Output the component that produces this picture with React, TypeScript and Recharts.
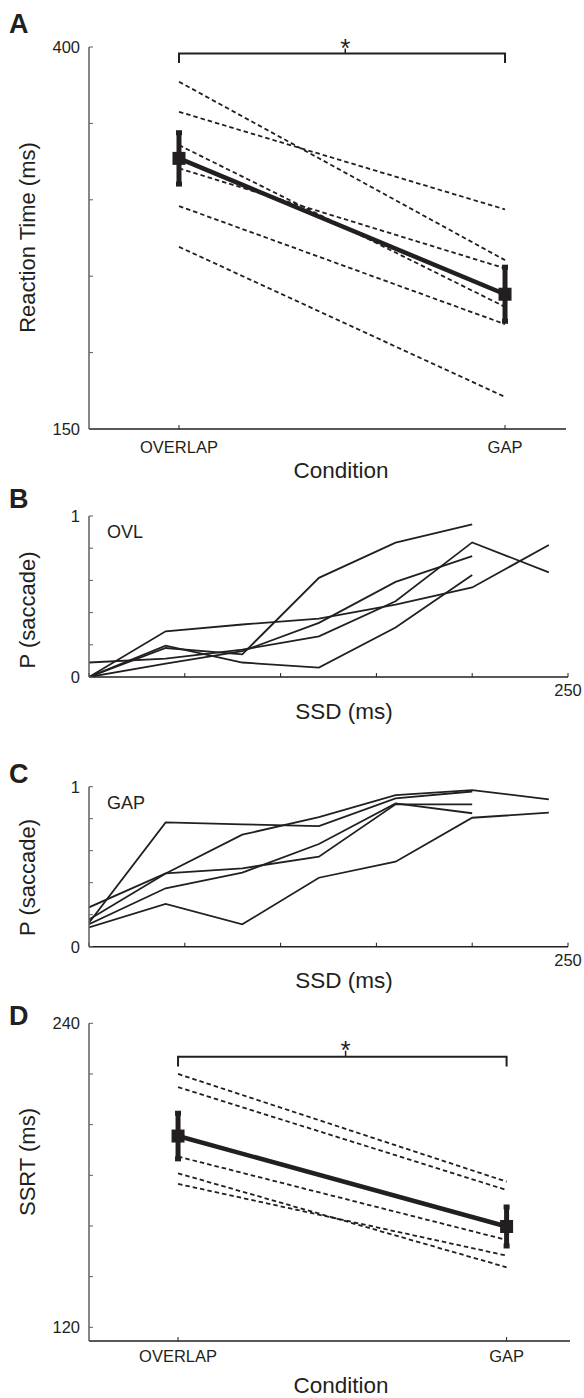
import React from 'react';
import { LineChart, Line, XAxis, YAxis, ErrorBar, ReferenceLine } from 'recharts';

const INK = '#231f20';
const GREY = '#5e5e5e';
const FONT = '"Liberation Sans", Arial, Helvetica, sans-serif';

// A: saccadic reaction time per subject (ms)
const conditions = ['OVERLAP', 'GAP'];
const rtOverlap = [377.3, 357.6, 335.8, 320.6, 295.9, 269.2];
const rtGap = [260.5, 293.7, 229.9, 255.1, 218.6, 171.0];
const rtMean = [327.1, 238.2];
const rtSem = [16.8, 17.7];
const rtTicks = [150, 200, 250, 300, 350, 400];

// B/C: inhibition functions, P(saccade) by SSD
const ssdValues = [0, 40, 80, 120, 160, 200, 240];
const ssdTicks = [0, 50, 100, 150, 200, 250];
const probTicks = [0, 0.2, 0.4, 0.6, 0.8, 1];
const ovlS1 = [0, 0.18, 0.141, 0.616, 0.834, 0.948];
const ovlS2 = [0, 0.284, 0.326, 0.363, 0.45, 0.556, 0.82];
const ovlS3 = [0, 0.083, 0.16, 0.336, 0.591, 0.751];
const ovlS4 = [0.09, 0.114, 0.17, 0.253, 0.47, 0.836, 0.65];
const ovlS5 = [0, 0.195, 0.09, 0.058, 0.307, 0.633];
const gapS1 = [0.15, 0.777, 0.765, 0.754, 0.927, 0.97];
const gapS2 = [0.17, 0.458, 0.7, 0.81, 0.948, 0.979, 0.921];
const gapS3 = [0.246, 0.458, 0.49, 0.5625, 0.89, 0.89];
const gapS4 = [0.14, 0.365, 0.463, 0.642, 0.896, 0.834];
const gapS5 = [0.12, 0.267, 0.14, 0.431, 0.531, 0.806, 0.8375];

// D: SSRT per subject (ms)
const ssrtOverlap = [220.0, 214.8, 187.4, 180.8, 176.6];
const ssrtGap = [177.5, 174.2, 154.5, 143.7, 148.3];
const ssrtMean = [195.5, 159.8];
const ssrtSem = [9.0, 7.7];
const ssrtTicks = [120, 140, 160, 180, 200, 220, 240];

const pairs = (a: number[], b: number[]) => a.map((v, i) => [{ x: 1, y: v }, { x: 2, y: b[i] }]);
const means = (m: number[], e: number[]) => m.map((v, i) => ({ x: i + 1, y: v, err: e[i] }));
const curve = (ps: number[]) => ps.map((p, i) => ({ x: ssdValues[i], y: p }));

const tickStyle = { fill: INK, fontSize: 16.5, fontFamily: FONT };

function Square(props: any) {
  const { cx, cy, index } = props;
  if (cx == null || cy == null) return <g key={`sq-${index}`} />;
  return <rect key={`sq-${index}`} x={cx - 6.5} y={cy - 6.5} width={13} height={13} fill={INK} />;
}

const yTitle = (text: string, yc: number) => () => (
  <text x={34.5} y={yc} transform={`rotate(-90 34.5 ${yc})`} textAnchor="middle"
    fontSize={22} fontFamily={FONT} fill={INK}>{text}</text>
);
const xTitle = (text: string, yb: number, xc = 341) => () => (
  <text x={xc} y={yb} textAnchor="middle" fontSize={22.5} fontFamily={FONT} fill={INK}>{text}</text>
);
const star = (props: any) => {
  const vb = props.viewBox || {};
  return (
    <text x={vb.x} y={vb.y + 8} textAnchor="middle" fontSize={26} fontFamily={FONT} fill={INK}>*</text>
  );
};

type CondProps = {
  top: number; height: number; mt: number; mb: number; mr: number;
  xDomain: number[]; yDomain: number[]; yTicks: number[]; yLabels: number[];
  overlap: number[]; gap: number[]; mean: number[]; sem: number[];
  bracketLow: number; bracketHigh: number; starTop: number;
  yName: string; yTitleY: number; xTitleY: number; xTickMargin: number;
};

function ConditionPanel(p: CondProps) {
  const bracket = [
    { x: 1, y: p.bracketLow }, { x: 1, y: p.bracketHigh },
    { x: 2, y: p.bracketHigh }, { x: 2, y: p.bracketLow },
  ];
  return (
    <div style={{ position: 'absolute', left: 0, top: p.top }}>
      <LineChart width={584} height={p.height} style={{ overflow: 'visible' }}
        margin={{ top: p.mt, right: p.mr, bottom: p.mb, left: 49 }}>
        <XAxis type="number" dataKey="x" domain={p.xDomain} ticks={[1, 2]} allowDataOverflow interval={0}
          tickFormatter={(v: number) => conditions[v - 1] ?? ''} tick={tickStyle}
          tickSize={-4} tickMargin={p.xTickMargin} height={30}
          axisLine={{ stroke: INK, strokeWidth: 1.5 }} tickLine={{ stroke: INK }}
          label={{ content: xTitle('Condition', p.xTitleY) }} />
        <YAxis type="number" domain={p.yDomain} ticks={p.yTicks} allowDataOverflow interval={0} width={40}
          tickFormatter={(v: number) => (p.yLabels.includes(v) ? String(v) : '')} tick={tickStyle}
          tickSize={-4} tickMargin={13}
          axisLine={{ stroke: GREY, strokeWidth: 1.5 }} tickLine={{ stroke: GREY }}
          label={{ content: yTitle(p.yName, p.yTitleY) }} />
        {pairs(p.overlap, p.gap).map((d, i) => (
          <Line key={`s${i}`} data={d} dataKey="y" type="linear" stroke={INK} strokeWidth={1.8}
            strokeDasharray="4.5 3" dot={false} isAnimationActive={false} />
        ))}
        <Line data={bracket} dataKey="y" type="linear" stroke={INK} strokeWidth={2} dot={false}
          isAnimationActive={false} />
        <ReferenceLine segment={[{ x: 1.51, y: p.bracketHigh }, { x: 1.51, y: p.starTop }]}
          stroke={INK} strokeWidth={1.5} label={{ content: star }} />
        <Line data={means(p.mean, p.sem)} dataKey="y" type="linear" stroke={INK} strokeWidth={4.5}
          dot={<Square />} isAnimationActive={false}>
          <ErrorBar dataKey="err" width={3} strokeWidth={5} stroke={INK} direction="y" />
        </Line>
      </LineChart>
    </div>
  );
}

type SsdProps = {
  top: number; height: number; mt: number; mb: number; curves: number[][];
  yTitleY: number; xTitleY: number; xTickMargin: number;
};

function SsdPanel(p: SsdProps) {
  return (
    <div style={{ position: 'absolute', left: 0, top: p.top }}>
      <LineChart width={584} height={p.height} style={{ overflow: 'visible' }}
        margin={{ top: p.mt, right: 16, bottom: p.mb, left: 49 }}>
        <XAxis type="number" dataKey="x" domain={[0, 250]} ticks={ssdTicks} allowDataOverflow interval={0}
          tickFormatter={(v: number) => (v === 250 ? '250' : '')} tick={tickStyle}
          tickSize={-4} tickMargin={p.xTickMargin} height={30}
          axisLine={{ stroke: INK, strokeWidth: 1.5 }} tickLine={{ stroke: INK }}
          label={{ content: xTitle('SSD (ms)', p.xTitleY, 344) }} />
        <YAxis type="number" domain={[0, 1]} ticks={probTicks} allowDataOverflow interval={0} width={40}
          tickFormatter={(v: number) => (v === 0 || v === 1 ? String(v) : '')} tick={tickStyle}
          tickSize={-4} tickMargin={13}
          axisLine={{ stroke: GREY, strokeWidth: 1.5 }} tickLine={{ stroke: GREY }}
          label={{ content: yTitle('P (saccade)', p.yTitleY) }} />
        {p.curves.map((c, i) => (
          <Line key={`c${i}`} data={curve(c)} dataKey="y" type="linear" stroke={INK} strokeWidth={1.8}
            dot={false} isAnimationActive={false} />
        ))}
      </LineChart>
    </div>
  );
}

const letters = [
  { t: 'A', y: 33 }, { t: 'B', y: 508 }, { t: 'C', y: 783 }, { t: 'D', y: 1025 },
];
const tags = [
  { t: 'OVL', y: 538 }, { t: 'GAP', y: 809 },
];

export default function App() {
  return (
    <div style={{ position: 'relative', width: 584, height: 1398, background: '#fff', overflow: 'hidden' }}>
      <style>{'body{margin:0}'}</style>
      <ConditionPanel top={0} height={490} mt={47} mb={31} mr={18}
        xDomain={[0.724, 2.187]} yDomain={[150, 400]} yTicks={rtTicks} yLabels={[150, 400]}
        overlap={rtOverlap} gap={rtGap} mean={rtMean} sem={rtSem}
        bracketLow={389.5} bracketHigh={395.7} starTop={399}
        yName="Reaction Time (ms)" yTitleY={237.5} xTitleY={478} xTickMargin={16} />
      <SsdPanel top={490} height={235} mt={26} mb={18}
        curves={[ovlS1, ovlS2, ovlS3, ovlS4, ovlS5]} yTitleY={120} xTitleY={229} xTickMargin={11} />
      <SsdPanel top={760} height={240} mt={26.7} mb={23.3}
        curves={[gapS1, gapS2, gapS3, gapS4, gapS5]} yTitleY={117.5} xTitleY={227.5} xTickMargin={11.3} />
      <ConditionPanel top={1000} height={398} mt={23.3} mb={27} mr={14}
        xDomain={[0.729, 2.193]} yDomain={[114.6, 240]} yTicks={ssrtTicks} yLabels={[120, 240]}
        overlap={ssrtOverlap} gap={ssrtGap} mean={ssrtMean} sem={ssrtSem}
        bracketLow={222.9} bracketHigh={226.8} starTop={229.2}
        yName="SSRT (ms)" yTitleY={162} xTitleY={393} xTickMargin={13.7} />
      <svg width={584} height={1398} style={{ position: 'absolute', left: 0, top: 0, pointerEvents: 'none' }}>
        {letters.map((l) => (
          <text key={l.t} x={9} y={l.y} fontSize={27} fontWeight="bold" fontFamily={FONT} fill={INK}>{l.t}</text>
        ))}
        {tags.map((g) => (
          <text key={g.t} x={107} y={g.y} fontSize={18} fontFamily={FONT} fill={INK}>{g.t}</text>
        ))}
      </svg>
    </div>
  );
}
